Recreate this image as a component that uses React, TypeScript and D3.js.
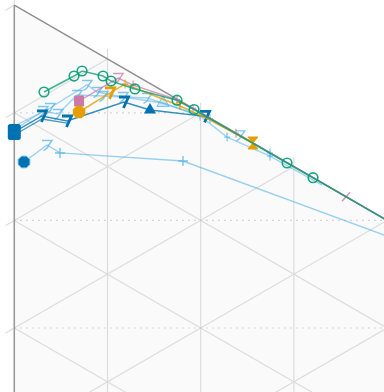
import React from 'react';
import * as d3 from 'd3';

// ---- data (ternary components in %, b = bottom-vertex share, c = right-vertex share) ----
const gridLevels = [10, 20, 30, 40, 50, 60, 70, 80, 90];
const dottedLevels = [10, 20, 30, 40, 50];

const skyLongB = [14.05, 11.24, 11.28, 5.43, 0];
const skyLongC = [1.04, 3.51, 4.9, 18.1, 48];
const skyLongM = ['octDark', 'seven', 'plus', 'plus', 'none'];

const skyUpperB = [11.23, 7.64, 3.51, 3.63, 2.7, 1.11, 0.05, 0, 0.02];
const skyUpperC = [0, 3.83, 7.8, 8.88, 11.67, 15.96, 21.0, 24.2, 27.44];
const skyUpperM = ['none', 'seven', 'seven', 'seven', 'seven', 'triOpen', 'tick', 'seven', 'tick'];

const skyLowerB = [11.6, 8.29, 7.77, 4.98, 3.68, 1.5, 0.33, 0.84, 0.3, 0.2];
const skyLowerC = [0, 3.08, 4.69, 6.73, 9.52, 14.24, 19.93, 22.83, 27.44, 33];
const skyLowerM = ['none', 'seven', 'seven', 'seven', 'seven', 'seven', 'tick', 'tick', 'tick', 'none'];

const darkBlue2B = [12.06, 9.09, 8.12];
const darkBlue2C = [0, 2.97, 5.66];
const darkBlue2M = ['none', 'none', 'none'];

const darkBlueB = [11.78, 8.81, 7.93, 3.11, 2.46, 0.1];
const darkBlueC = [0, 2.97, 5.66, 11.77, 14.56, 20.47];
const darkBlueM = ['blob', 'sevenBold', 'sevenBold', 'sevenBold', 'triangle', 'sevenBold'];

const pinkB = [5.43, 1.2, 1.05, 0.05, 0, 0, 0, 0];
const pinkC = [6.95, 11.14, 12.75, 17.46, 19.18, 23.79, 35.6, 50];
const pinkM = ['square', 'seven', 'tick', 'tick', 'tick', 'tick', 'slash', 'none'];

const orangeB = [6.45, 3.02, 1.38, 0.48, 0.17, 0];
const orangeC = [6.95, 10.27, 11.89, 17.78, 21.0, 25.61];
const orangeM = ['octagon', 'sevenBold', 'tick', 'tee', 'none', 'bowtie'];

const greenB = [6.47, 3.38, 2.48, 1.82, 1.86, 1.31, 0.1, 0.05, 0.03, 0, 0];
const greenC = [3.19, 6.41, 7.27, 9.52, 10.38, 12.95, 17.46, 19.29, 29.27, 32.06, 50];
const greenM = ['circle', 'circle', 'circle', 'circle', 'circle', 'circle', 'circle', 'circle', 'circle', 'circle', 'none'];

// ---- layout ----
const W = 384;
const H = 392;
const originX = 14.3;
const originY = 5.2;
const SIDE = 1076;
const COS30 = Math.sqrt(3) / 2;

const cScale = d3.scaleLinear().domain([0, 100]).range([0, SIDE * COS30]);
const bScale = d3.scaleLinear().domain([0, 100]).range([0, SIDE]);

function proj(b: number, c: number): [number, number] {
  return [originX + cScale(c), originY + bScale(b) + bScale(c) / 2];
}

const SKY = '#56B4E9';
const DARK = '#0072B2';
const PINK = '#CC79A7';
const ORANGE = '#E69F00';
const GREEN = '#009E73';
const GRID = '#dcdcdc';

type Series = { b: number[]; c: number[]; m: string[]; color: string; opacity: number; width: number };

const seriesList: Series[] = [
  { b: skyLongB, c: skyLongC, m: skyLongM, color: SKY, opacity: 0.6, width: 1.4 },
  { b: skyUpperB, c: skyUpperC, m: skyUpperM, color: SKY, opacity: 0.55, width: 1.4 },
  { b: skyLowerB, c: skyLowerC, m: skyLowerM, color: SKY, opacity: 0.55, width: 1.4 },
  { b: darkBlue2B, c: darkBlue2C, m: darkBlue2M, color: DARK, opacity: 0.7, width: 1.3 },
  { b: darkBlueB, c: darkBlueC, m: darkBlueM, color: DARK, opacity: 0.8, width: 1.4 },
  { b: pinkB, c: pinkC, m: pinkM, color: PINK, opacity: 0.75, width: 1.4 },
  { b: orangeB, c: orangeC, m: orangeM, color: ORANGE, opacity: 0.8, width: 1.5 },
  { b: greenB, c: greenC, m: greenM, color: GREEN, opacity: 0.75, width: 1.6 },
];

function octagon(r: number) {
  const pts = d3.range(8).map((i) => {
    const a = Math.PI / 8 + (i * Math.PI) / 4;
    return `${(r * Math.cos(a)).toFixed(2)},${(r * Math.sin(a)).toFixed(2)}`;
  });
  return 'M' + pts.join('L') + 'Z';
}

function Marker({ kind, x, y, color }: { kind: string; x: number; y: number; color: string }) {
  const t = `translate(${x},${y})`;
  switch (kind) {
    case 'circle':
      return <circle cx={x} cy={y} r={4.8} fill="none" stroke={color} strokeWidth={1.6} opacity={0.9} />;
    case 'seven':
      return (
        <path transform={t} d="M-5,-4.5H5L1.5,0.5M2,-0.8Q0.8,3.5 -3.5,5.5" fill="none" stroke={color} strokeWidth={1.4} opacity={0.75} />
      );
    case 'sevenBold':
      return <path transform={t} d="M-5,-5H4.5L-0.5,6" fill="none" stroke={color} strokeWidth={2.8} />;
    case 'plus':
      return <path transform={t} d="M-5,0H5M0,-5V5" fill="none" stroke={color} strokeWidth={1.4} opacity={0.8} />;
    case 'tick':
      return <path transform={t} d="M0,-4.5V4.5M-3,0H3" fill="none" stroke={color} strokeWidth={1.3} opacity={0.7} />;
    case 'slash':
      return <path transform={t} d="M-4,4.5L4,-4.5" fill="none" stroke={color} strokeWidth={1.5} opacity={0.8} />;
    case 'tee':
      return <path transform={t} d="M-3.5,-3.5H3.5M0,-3.5V3.5" fill="none" stroke={color} strokeWidth={1.5} />;
    case 'triangle':
      return <path transform={t} d={d3.symbol(d3.symbolTriangle, 65)() || ''} fill={color} />;
    case 'triOpen':
      return <path transform={t} d={d3.symbol(d3.symbolTriangle, 65)() || ''} fill={color} fillOpacity={0.35} stroke={color} strokeWidth={1} opacity={0.8} />;
    case 'octagon':
      return <path transform={t} d={octagon(6.8)} fill={color} />;
    case 'octDark':
      return <path transform={t} d={octagon(6.3)} fill={DARK} stroke={SKY} strokeWidth={1} />;
    case 'square':
      return <rect x={x - 5} y={y - 5.5} width={10} height={11} rx={1} fill={color} />;
    case 'blob':
      return <rect x={x - 6.5} y={y - 8} width={13} height={16} rx={2.5} fill={color} />;
    case 'bowtie':
      return <path transform={t} d="M-5,-6H5L-5,6H5Z" fill={color} stroke={color} strokeWidth={1} />;
    default:
      return null;
  }
}

export default function App() {
  const T = proj(0, 0);
  const B = proj(100, 0);
  const R = proj(0, 100);
  const line = d3.line<[number, number]>().x((d) => d[0]).y((d) => d[1]);
  const TICK = 10;

  const gridPaths: string[] = [];
  [0, ...gridLevels].forEach((k) => {
    const p0 = proj(0, k);
    const p1 = proj(100 - k, k);
    gridPaths.push(line([[p0[0], p0[1] - TICK], p1]) || '');
  });
  gridLevels.forEach((k) => {
    gridPaths.push(line([proj(k, 0), proj(k, 100 - k)]) || '');
  });
  [0, ...gridLevels].forEach((s) => {
    const p0 = proj(s, 0);
    const p1 = proj(0, s);
    const start: [number, number] = [p0[0] - TICK * COS30, p0[1] + TICK * 0.5];
    gridPaths.push(line([start, p1]) || '');
  });

  const dotted = dottedLevels.map((k) => line([proj(k, 0), proj(0, 2 * k)]) || '');

  return (
    <svg width={W} height={H} style={{ position: 'absolute', left: 0, top: 0, background: '#ffffff' }}>
      <path d={line([T, B, R]) + 'Z'} fill="#fafafa" />
      {gridPaths.map((d, i) => (
        <path key={'g' + i} d={d} stroke={GRID} strokeWidth={1.2} fill="none" />
      ))}
      {dotted.map((d, i) => (
        <path key={'d' + i} d={d} stroke="#bdbdbd" strokeWidth={1.2} strokeDasharray="1.2,4.8" fill="none" />
      ))}
      <path d={line([T, B]) || ''} stroke="#999" strokeWidth={1.5} fill="none" />
      <path d={line([T, R]) || ''} stroke="#8f8f8f" strokeWidth={1.4} fill="none" />
      {seriesList.map((s, si) => {
        const pts = s.b.map((b, i) => proj(b, s.c[i]));
        return (
          <g key={'s' + si}>
            <path d={line(pts) || ''} fill="none" stroke={s.color} strokeOpacity={s.opacity} strokeWidth={s.width} />
            {pts.map((p, i) => (
              <Marker key={i} kind={s.m[i]} x={p[0]} y={p[1]} color={s.color} />
            ))}
          </g>
        );
      })}
    </svg>
  );
}
